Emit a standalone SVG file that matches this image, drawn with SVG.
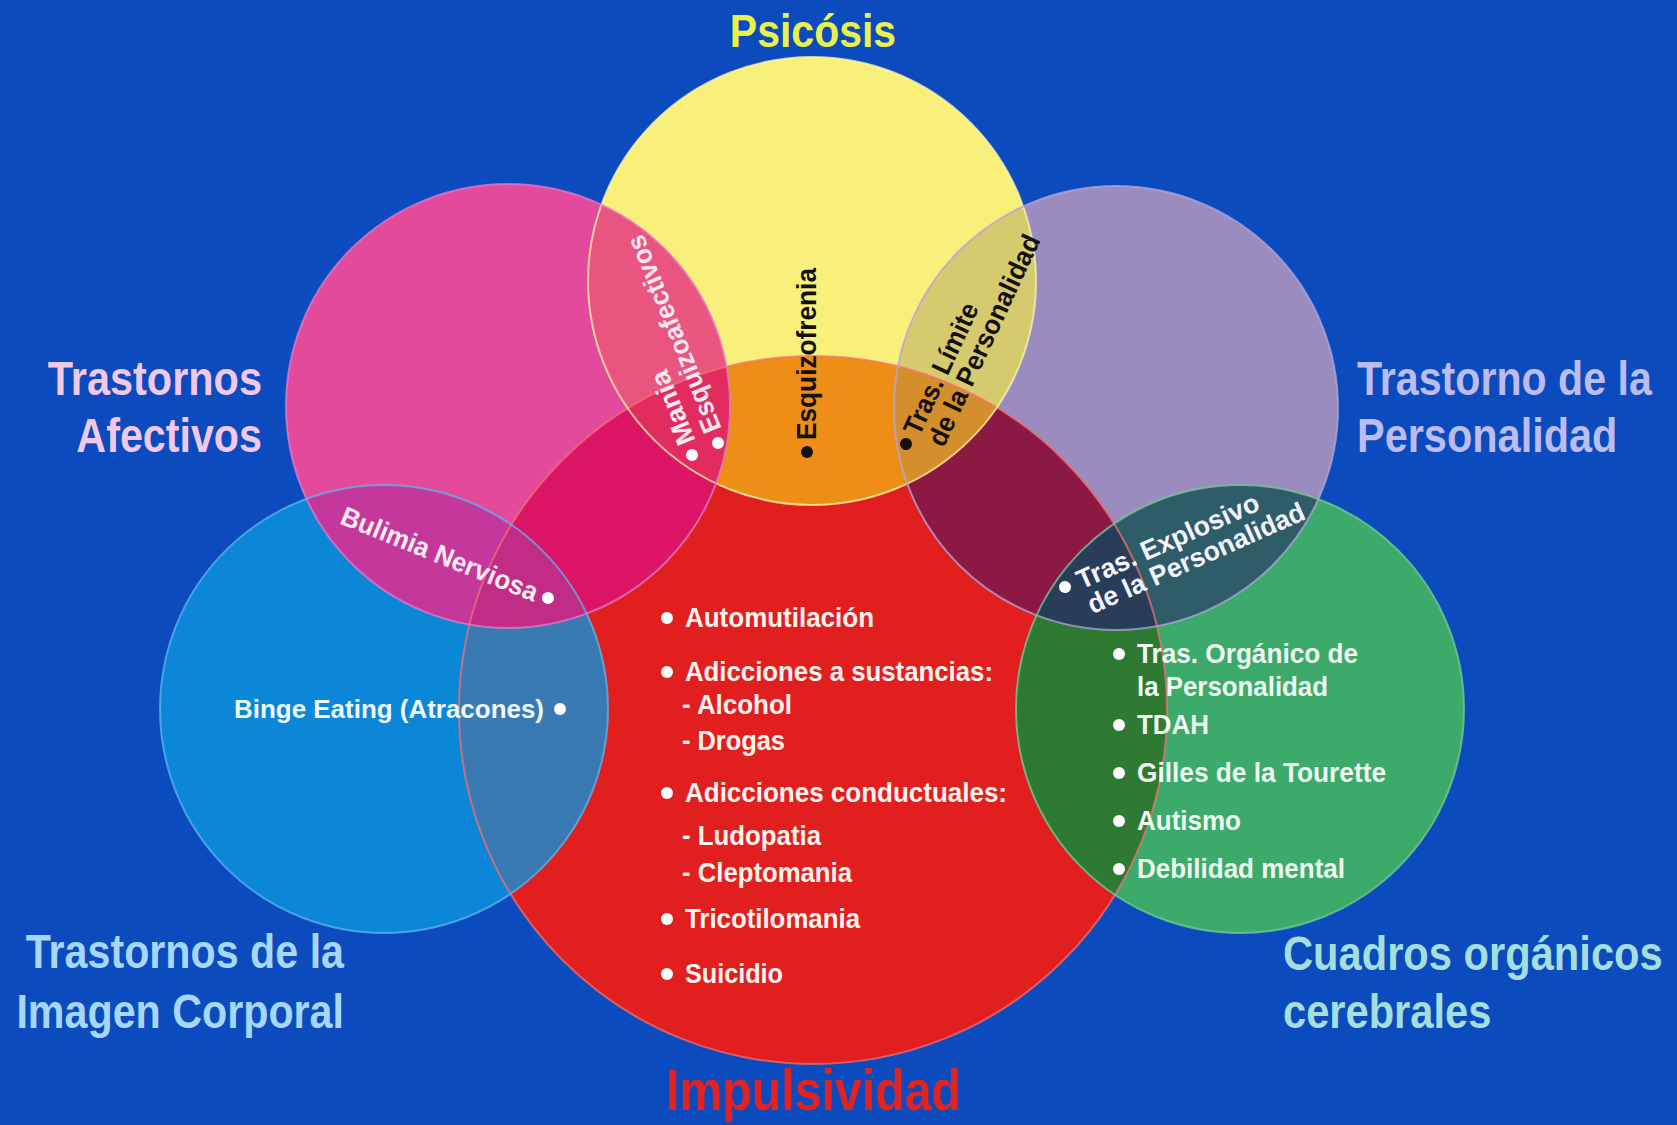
<svg xmlns="http://www.w3.org/2000/svg" width="1677" height="1125" viewBox="0 0 1677 1125">
<style>
.lbl{font-family:"Liberation Sans",Arial,sans-serif;font-weight:bold;}
.it{font-family:"Liberation Sans",Arial,sans-serif;font-weight:bold;font-size:27px;}
.dw{fill:#ffffff;}
.db{fill:#151010;}
.ol{fill:none;stroke-width:2;stroke-opacity:0.75;}
</style>
<defs>
<circle id="cY" cx="812" cy="281" r="224"/>
<circle id="cP" cx="508" cy="406" r="222"/>
<circle id="cL" cx="1116" cy="408" r="222"/>
<circle id="cB" cx="384" cy="709" r="224"/>
<circle id="cG" cx="1240" cy="709" r="224"/>
<circle id="cR" cx="813" cy="710" r="354"/>
<clipPath id="kY"><use href="#cY"/></clipPath>
<clipPath id="kP"><use href="#cP"/></clipPath>
<clipPath id="kL"><use href="#cL"/></clipPath>
<clipPath id="kB"><use href="#cB"/></clipPath>
<clipPath id="kG"><use href="#cG"/></clipPath>
<clipPath id="kR"><use href="#cR"/></clipPath>
</defs>
<rect x="0" y="0" width="1677" height="1125" fill="#0b4bbd"/>

<g id="node-impulsividad">
<use href="#cR" fill="#e21f1f"/>
<text class="lbl" transform="translate(666,1110) scale(0.836,1)" font-size="58" fill="#e02424" textLength="353" lengthAdjust="spacingAndGlyphs">Impulsividad</text>
</g>
<g id="node-psicosis">
<use href="#cY" fill="#f9f07c"/>
<text class="lbl" transform="translate(813,47) scale(0.88,1)" text-anchor="middle" font-size="46" fill="#eaf04c" textLength="189" lengthAdjust="spacingAndGlyphs">Psicósis</text>
</g>
<g id="node-afectivos">
<use href="#cP" fill="#e44a9b"/>
<text class="lbl" transform="translate(262,395) scale(0.84,1)" text-anchor="end" font-size="48" fill="#f2c8ea" textLength="255" lengthAdjust="spacingAndGlyphs">Trastornos</text>
<text class="lbl" transform="translate(262,452) scale(0.84,1)" text-anchor="end" font-size="48" fill="#f2c8ea" textLength="221" lengthAdjust="spacingAndGlyphs">Afectivos</text>
</g>
<g id="node-personalidad">
<use href="#cL" fill="#9a8cbf"/>
<text class="lbl" transform="translate(1357,395) scale(0.84,1)" font-size="48" fill="#bcbcf0" textLength="351" lengthAdjust="spacingAndGlyphs">Trastorno de la</text>
<text class="lbl" transform="translate(1357,452) scale(0.84,1)" font-size="48" fill="#bcbcf0" textLength="310" lengthAdjust="spacingAndGlyphs">Personalidad</text>
</g>
<g id="node-imagen-corporal">
<use href="#cB" fill="#0c86d6"/>
<text class="lbl" transform="translate(344,968) scale(0.84,1)" text-anchor="end" font-size="48" fill="#a6d6f8" textLength="379" lengthAdjust="spacingAndGlyphs">Trastornos de la</text>
<text class="lbl" transform="translate(344,1028) scale(0.84,1)" text-anchor="end" font-size="48" fill="#a6d6f8" textLength="390" lengthAdjust="spacingAndGlyphs">Imagen Corporal</text>
</g>
<g id="node-organicos">
<use href="#cG" fill="#3caa6a"/>
<text class="lbl" transform="translate(1283,970) scale(0.84,1)" font-size="48" fill="#a4dede" textLength="452" lengthAdjust="spacingAndGlyphs">Cuadros orgánicos</text>
<text class="lbl" transform="translate(1283,1028) scale(0.84,1)" font-size="48" fill="#a4dede" textLength="248" lengthAdjust="spacingAndGlyphs">cerebrales</text>
</g>

<g id="overlaps">
<g clip-path="url(#kR)">
<use href="#cY" fill="#ee8e16"/>
<use href="#cP" fill="#dc1566"/>
<use href="#cL" fill="#8c1844"/>
<use href="#cG" fill="#2e7a32"/>
<use href="#cB" fill="#3a7ab2"/>
</g>
<g clip-path="url(#kP)">
<use href="#cY" fill="#ea5580"/>
<use href="#cB" fill="#c4389c"/>
</g>
<g clip-path="url(#kL)">
<use href="#cY" fill="#d6ca6e"/>
<use href="#cG" fill="#2e5c68"/>
</g>
<g clip-path="url(#kR)">
<g clip-path="url(#kP)">
<use href="#cY" fill="#e22c60"/>
<use href="#cB" fill="#c02c86"/>
</g>
<g clip-path="url(#kL)">
<use href="#cY" fill="#d58e2c"/>
<use href="#cG" fill="#283e58"/>
</g>
</g>
<use href="#cR" class="ol" stroke="#f27070"/>
<use href="#cY" class="ol" stroke="#fdf6a8"/>
<use href="#cP" class="ol" stroke="#e27ccc"/>
<use href="#cL" class="ol" stroke="#b4a6dc"/>
<use href="#cB" class="ol" stroke="#62b4f2"/>
<use href="#cG" class="ol" stroke="#78cc98"/>
</g>

<g id="connectors"></g>

<g id="items-psicosis" class="it">
<g transform="translate(692,455) rotate(-112)" fill="#fbe8f2">
<circle class="dw" r="6"/>
<text x="12" y="9" textLength="78" lengthAdjust="spacingAndGlyphs">Mania</text>
</g>
<g transform="translate(718,443) rotate(-112)" fill="#fbe8f2">
<circle class="dw" r="6"/>
<text x="12" y="9" textLength="211" lengthAdjust="spacingAndGlyphs">Esquizoafectivos</text>
</g>
<g transform="translate(807,452) rotate(-90)" fill="#151010">
<circle class="db" r="6"/>
<text x="12" y="9" textLength="172" lengthAdjust="spacingAndGlyphs">Esquizofrenia</text>
</g>
<g transform="translate(906,444) rotate(-65)" fill="#151010">
<circle class="db" r="6"/>
<text x="12" y="9" textLength="142" lengthAdjust="spacingAndGlyphs">Tras. Límite</text>
<text x="12" y="36" textLength="230" lengthAdjust="spacingAndGlyphs">de la Personalidad</text>
</g>
</g>

<g id="items-personalidad" class="it" fill="#f4f4ff">
<g transform="translate(1065,587) rotate(-24)">
<circle class="dw" r="6"/>
<text x="14" y="9" textLength="197" lengthAdjust="spacingAndGlyphs">Tras. Explosivo</text>
<text x="14" y="36" textLength="235" lengthAdjust="spacingAndGlyphs">de la Personalidad</text>
</g>
</g>

<g id="items-afectivos" class="it" fill="#fbeaf4">
<g transform="translate(548,598) rotate(22)">
<circle class="dw" r="6"/>
<text x="-12" y="9" text-anchor="end" textLength="210" lengthAdjust="spacingAndGlyphs">Bulimia Nerviosa</text>
</g>
</g>

<g id="items-imagen-corporal" class="it" fill="#eef8ff">
<circle class="dw" cx="560" cy="709" r="6"/>
<text x="544" y="718" text-anchor="end" font-size="26" textLength="310" lengthAdjust="spacingAndGlyphs">Binge Eating (Atracones)</text>
</g>

<g id="items-impulsividad" class="it" fill="#fff4f0">
<circle class="dw" cx="667" cy="618" r="6"/>
<text x="685" y="627" textLength="189" lengthAdjust="spacingAndGlyphs">Automutilación</text>
<circle class="dw" cx="667" cy="672" r="6"/>
<text x="685" y="681" textLength="308" lengthAdjust="spacingAndGlyphs">Adicciones a sustancias:</text>
<text x="682" y="714" textLength="110" lengthAdjust="spacingAndGlyphs">- Alcohol</text>
<text x="682" y="750" textLength="103" lengthAdjust="spacingAndGlyphs">- Drogas</text>
<circle class="dw" cx="667" cy="793" r="6"/>
<text x="685" y="802" textLength="322" lengthAdjust="spacingAndGlyphs">Adicciones conductuales:</text>
<text x="682" y="845" textLength="139" lengthAdjust="spacingAndGlyphs">- Ludopatia</text>
<text x="682" y="882" textLength="170" lengthAdjust="spacingAndGlyphs">- Cleptomania</text>
<circle class="dw" cx="667" cy="919" r="6"/>
<text x="685" y="928" textLength="175" lengthAdjust="spacingAndGlyphs">Tricotilomania</text>
<circle class="dw" cx="667" cy="974" r="6"/>
<text x="685" y="983" textLength="98" lengthAdjust="spacingAndGlyphs">Suicidio</text>
</g>

<g id="items-organicos" class="it" fill="#eefaf0">
<circle class="dw" cx="1119" cy="654" r="6"/>
<text x="1137" y="663" textLength="221" lengthAdjust="spacingAndGlyphs">Tras. Orgánico de</text>
<text x="1137" y="696" textLength="191" lengthAdjust="spacingAndGlyphs">la Personalidad</text>
<circle class="dw" cx="1119" cy="725" r="6"/>
<text x="1137" y="734" textLength="72" lengthAdjust="spacingAndGlyphs">TDAH</text>
<circle class="dw" cx="1119" cy="773" r="6"/>
<text x="1137" y="782" textLength="249" lengthAdjust="spacingAndGlyphs">Gilles de la Tourette</text>
<circle class="dw" cx="1119" cy="821" r="6"/>
<text x="1137" y="830" textLength="104" lengthAdjust="spacingAndGlyphs">Autismo</text>
<circle class="dw" cx="1119" cy="869" r="6"/>
<text x="1137" y="878" textLength="208" lengthAdjust="spacingAndGlyphs">Debilidad mental</text>
</g>
</svg>
